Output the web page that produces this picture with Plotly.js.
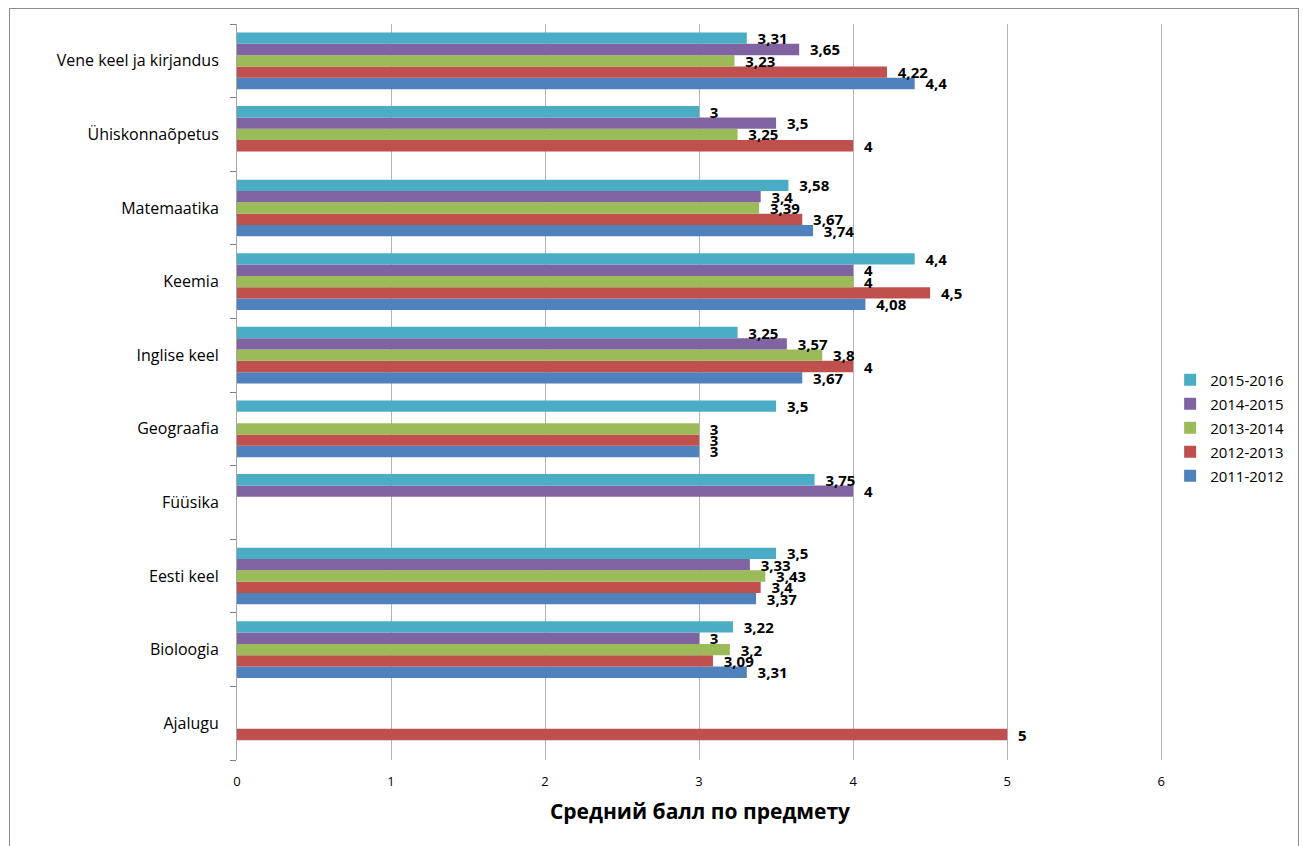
<!DOCTYPE html>
<html><head><meta charset="utf-8">
<script src="https://cdn.plot.ly/plotly-3.0.1.min.js"></script>
<style>
html,body{margin:0;padding:0;background:#fff;}
#wrap{position:relative;width:1303px;height:846px;}
#chart{width:1303px;height:846px;}
#frame{position:absolute;left:9px;top:8px;width:1288px;height:850px;border:1px solid #8c8c8c;border-bottom:none;pointer-events:none;}
</style></head>
<body><div id="wrap"><div id="chart"></div><div id="frame"></div></div>
<script>
var categories = ["Ajalugu","Bioloogia","Eesti keel","Füüsika","Geograafia","Inglise keel","Keemia","Matemaatika","Ühiskonnaõpetus","Vene keel ja kirjandus"];
var seriesNames = ["2011-2012","2012-2013","2013-2014","2014-2015","2015-2016"];
var colors = ["#4F81BD","#C0504D","#9BBB59","#8064A2","#4BACC6"];
var s2011 = [null, 3.31, 3.37, null, 3, 3.67, 4.08, 3.74, null, 4.4];
var s2012 = [5, 3.09, 3.4, null, 3, 4, 4.5, 3.67, 4, 4.22];
var s2013 = [null, 3.2, 3.43, null, 3, 3.8, 4, 3.39, 3.25, 3.23];
var s2014 = [null, 3, 3.33, 4, null, 3.57, 4, 3.4, 3.5, 3.65];
var s2015 = [null, 3.22, 3.5, 3.75, 3.5, 3.25, 4.4, 3.58, 3, 3.31];
var xTicks = [0,1,2,3,4,5,6];
var allSeries = [s2011, s2012, s2013, s2014, s2015];

var FONT = '"Open Sans", "DejaVu Sans", sans-serif';

var traces = allSeries.map(function(vals, i){
  return {
    type: 'bar', orientation: 'h', name: seriesNames[i], legendgroup: 'g' + i,
    legendrank: 100 - i,
    y: categories, x: vals,
    marker: {color: colors[i]},
    text: vals.map(function(v){ return v === null ? '' : '\u00a0\u00a0' + String(v).replace('.', ','); }),
    textposition: 'outside', constraintext: 'none', cliponaxis: false,
    textfont: {family: FONT, size: 15, color: '#000', weight: 'bold'},
    hoverinfo: 'x+name'
  };
});

var layout = {
  width: 1303, height: 846,
  margin: {l: 237, r: 140, t: 24, b: 86},
  paper_bgcolor: '#fff', plot_bgcolor: '#fff',
  barmode: 'group', bargap: 0.23, bargroupgap: 0,
  font: {family: FONT, color: '#000'},
  xaxis: {
    range: [0, 6.012], tickvals: xTicks, ticktext: xTicks.map(String),
    showgrid: true, gridcolor: '#b3b3b3', gridwidth: 1,
    zeroline: false, showline: false, ticks: '',
    tickfont: {size: 13}, ticklabelstandoff: 12,
    title: {text: 'Средний балл по предмету', font: {size: 21, weight: 'bold'}, standoff: 15}
  },
  yaxis: {
    type: 'category', categoryorder: 'array', categoryarray: categories,
    showline: true, linecolor: '#a6a6a6', linewidth: 1,
    ticks: 'outside', tickson: 'boundaries', ticklen: 6, tickcolor: '#808080',
    tickfont: {size: 16}, showgrid: false, automargin: false, ticklabelstandoff: 14
  },
  legend: {
    x: 1.0077, xanchor: 'left', y: 0.451, yanchor: 'middle',
    traceorder: 'grouped', font: {size: 15},
    itemwidth: 30, tracegroupgap: 1.5, bgcolor: 'rgba(0,0,0,0)'
  },
  showlegend: true
};

Plotly.newPlot('chart', traces, layout, {displayModeBar: false, responsive: false});
</script>
</body></html>
